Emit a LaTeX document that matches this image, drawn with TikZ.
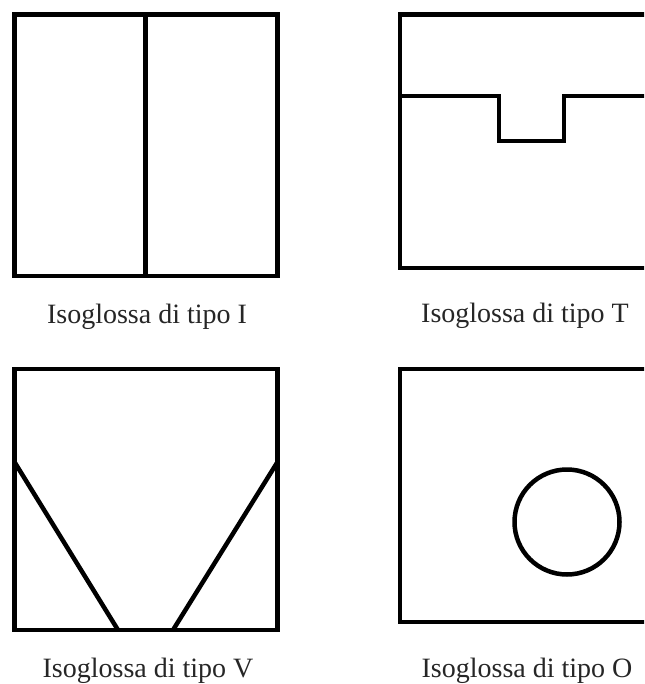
\documentclass[tikz,border=0pt]{standalone}
\usepackage{fontspec}
\setmainfont{Liberation Serif}
\begin{document}
\begin{tikzpicture}[x=1pt,y=-1pt,
  iso/.style={line width=4.5pt,line join=miter,black},
  caption/.style={anchor=base,inner sep=0pt,text=black!85,font=\fontsize{28}{34}\selectfont}]
\clip (0,0) rectangle (644,684);
% Type I
\draw[iso] (14.5,14.5) rectangle (277.5,276);
\draw[iso] (145.5,14.5) -- (145.5,276);
% Type T
\draw[iso] (400,14.5) rectangle (660,268);
\draw[iso] (400,96) -- (499,96) -- (499,141) -- (564,141) -- (564,96) -- (660,96);
% Type V
\draw[iso] (14.5,369) rectangle (277.5,630);
\draw[iso] (14.5,462) -- (118,630);
\draw[iso] (277.5,462) -- (173,630);
% Type O
\draw[iso] (400,369) rectangle (660,622);
\draw[iso] (567,522) circle (52.5);
% captions
\node[caption] (cI) at (147,323) {Isoglossa di tipo I};
\node[caption] (cT) at (525,322.5) {Isoglossa di tipo T};
\node[caption] (cV) at (148,677) {Isoglossa di tipo V};
\node[caption] (cO) at (527,677) {Isoglossa di tipo O};
\end{tikzpicture}
\end{document}
